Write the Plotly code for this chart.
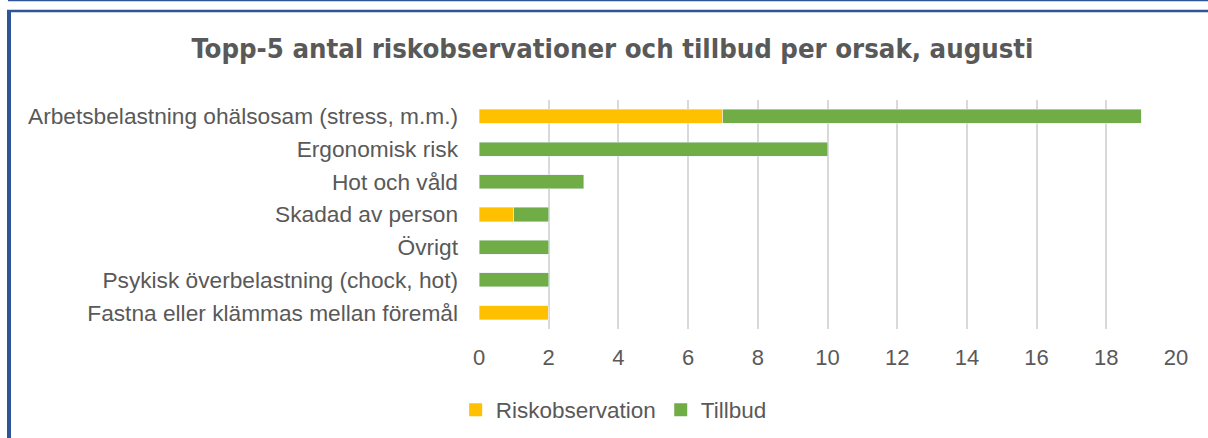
import plotly.graph_objects as go

categories = [
    "Arbetsbelastning ohälsosam (stress, m.m.)",
    "Ergonomisk risk",
    "Hot och våld",
    "Skadad av person",
    "Övrigt",
    "Psykisk överbelastning (chock, hot)",
    "Fastna eller klämmas mellan föremål",
]
riskobservation = [7, 0, 0, 1, 0, 0, 2]
tillbud = [12, 10, 3, 1, 2, 2, 0]
series_names = ["Riskobservation", "Tillbud"]
series_colors = ["#FFC000", "#70AD47"]
tick_vals = [0, 2, 4, 6, 8, 10, 12, 14, 16, 18, 20]

W, H = 1208, 438
L, R, T, B = 479, 32, 100, 109
PW, PH = W - L - R, H - T - B

def px(x):
    return (x - L) / PW

def py(y):
    return (H - B - y) / PH

TEXT = "#595959"
FONT = "Liberation Sans"

fig = go.Figure()
for name, vals, col in zip(series_names, [riskobservation, tillbud], series_colors):
    fig.add_trace(go.Bar(y=categories, x=vals, orientation="h", name=name,
                         marker_color=col, showlegend=False, legendgroup=name))
# legend entries with larger square symbols
for name, col in zip(series_names, series_colors):
    fig.add_trace(go.Scatter(x=[None], y=[None], mode="markers", name=name,
                             legendgroup=name,
                             marker=dict(symbol="square", size=13, color=col)))

frame = "#2F5597"
shapes = [
    dict(type="line", xref="paper", yref="paper", x0=px(8), x1=px(1210), y0=py(0.5), y1=py(0.5),
         line=dict(color=frame, width=1.5)),
    dict(type="line", xref="paper", yref="paper", x0=px(7), x1=px(1210), y0=py(11), y1=py(11),
         line=dict(color=frame, width=2.5)),
    dict(type="line", xref="paper", yref="paper", x0=px(9), x1=px(9), y0=py(10), y1=py(440),
         line=dict(color=frame, width=4)),
]

fig.update_layout(
    width=W, height=H,
    margin=dict(l=L, r=R, t=T, b=B),
    barmode="stack", bargap=0.57,
    plot_bgcolor="white", paper_bgcolor="white",
    title=dict(text="<b>Topp-5 antal riskobservationer och tillbud per orsak, augusti</b>",
               x=0.507, xref="container", xanchor="center",
               y=1 - 48 / H, yref="container", yanchor="middle",
               font=dict(family="Liberation Sans Narrow, DejaVu Sans Condensed", size=27.3, color=TEXT)),
    font=dict(family=FONT, color=TEXT, size=23),
    legend=dict(orientation="h", xref="container", x=0.508, xanchor="center",
                yref="container", y=1 - 410 / H, yanchor="middle",
                font=dict(size=22.5, color=TEXT), itemwidth=30, traceorder="normal"),
    xaxis=dict(range=[0, 20], tickvals=tick_vals, showgrid=True, gridcolor="#D9D9D9",
               gridwidth=1.5, zeroline=False, showline=False, ticks="",
               ticklabelstandoff=13, tickfont=dict(size=22, color=TEXT)),
    yaxis=dict(autorange="reversed", showgrid=False, showline=False, ticks="",
               ticklabelstandoff=20, tickfont=dict(size=22.7, color=TEXT)),
    shapes=shapes,
)

fig.write_html("out.html", config={"displayModeBar": False},
               post_script="document.body.style.margin='0';")
